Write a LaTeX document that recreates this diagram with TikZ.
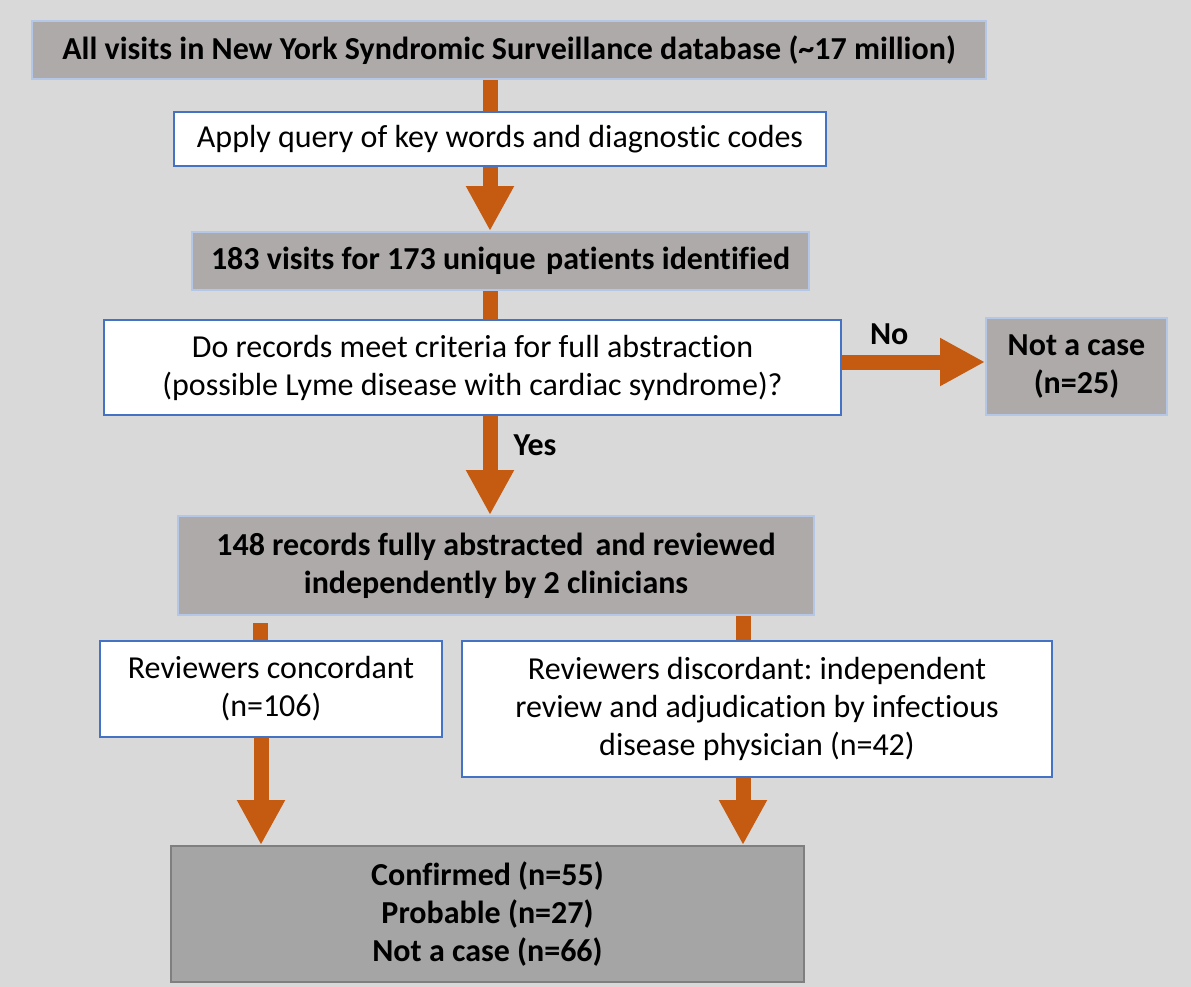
\documentclass[tikz,border=0pt]{standalone}
\usepackage{fontspec}
\setmainfont{Carlito}[RawFeature=-liga]
\usetikzlibrary{arrows.meta}
\frenchspacing
\definecolor{bgc}{HTML}{D9D9D9}
\definecolor{grayfill}{HTML}{AEAAAA}
\definecolor{lightblue}{HTML}{B4C7E7}
\definecolor{boxblue}{HTML}{4472C4}
\definecolor{orangec}{HTML}{C55A11}
\definecolor{darkfill}{HTML}{A5A5A5}
\definecolor{darkline}{HTML}{7F7F7F}
\tikzset{
  txt/.style={font=\fontsize{16}{19}\selectfont, align=center, inner sep=0pt, text=black},
  graybox/.style={txt, font=\fontsize{16}{19}\selectfont\bfseries, fill=grayfill, draw=lightblue, line width=1pt},
  whitebox/.style={txt, fill=white, draw=boxblue, line width=1pt},
  finalbox/.style={txt, font=\fontsize{16}{19}\selectfont\bfseries, fill=darkfill, draw=darkline, line width=1pt},
  stem/.style={draw=orangec, line width=7.5pt},
  arr/.style={stem, -{Triangle[width=22.5pt,length=22.5pt]}, orangec},
  lbl/.style={font=\fontsize{16}{19}\selectfont\bfseries, inner sep=0pt, text=black},
}
\begin{document}
\begin{tikzpicture}[x=0.5pt,y=-0.5pt]
\fill[bgc] (0,0) rectangle (1191,987);
\useasboundingbox (0,0) rectangle (1191,987);

\node[graybox, minimum width=477pt, minimum height=29pt] (b1) at (509,50) {All visits in New York Syndromic Surveillance database (\char`~17 million)};
\node[whitebox, minimum width=326pt, minimum height=27pt] (b2) at (500,139) {Apply query of key words and diagnostic codes};
\node[graybox, minimum width=308.5pt, minimum height=29pt] (b3) at (500.5,261) {183 visits for 173 unique\hspace{0.1em} patients identified};
\node[whitebox, minimum width=368.5pt, minimum height=47.5pt] (b4) at (472.5,367.5) {Do records meet criteria for full abstraction\\(possible Lyme disease with cardiac syndrome)?};
\node[graybox, minimum width=90.5pt, minimum height=48.5pt] (b5) at (1076.5,366.5) {Not a case\\(n=25)};
\node[graybox, minimum width=318pt, minimum height=49.5pt] (b6) at (496,565.5) {148 records fully abstracted\hspace{0.15em} and reviewed\\independently by 2 clinicians};
\node[whitebox, minimum width=171pt, minimum height=48pt] (b7) at (271,689) {Reviewers concordant\\(n=106)};
\node[whitebox, minimum width=295pt, minimum height=68pt] (b8) at (757,709) {Reviewers discordant: independent\\review and adjudication by infectious\\disease physician (n=42)};
\node[finalbox, minimum width=316.5pt, minimum height=68pt] (b9) at (487.5,914) {Confirmed (n=55)\\Probable (n=27)\\Not a case (n=66)};

\coordinate (cx) at (490,0);
\coordinate (lx) at (261,0);
\coordinate (rx) at (743,0);
\coordinate (sx) at (260.5,623);
\coordinate (ny) at (0,362);

% connectors
\draw[stem] (cx |- b1.south) -- (cx |- b2.north);
\draw[arr] (cx |- b2.south) -- (cx |- b3.north);
\draw[stem] (cx |- b3.south) -- (cx |- b4.north);
\draw[arr] (b4.east |- ny) -- node[lbl, above=5pt, pos=0.33] (no) {No} (b5.west |- ny);
\draw[arr] (cx |- b4.south) -- node[lbl, right=8pt, pos=0.3] (yes) {Yes} (cx |- b6.north);
\draw[stem] (sx) -- (sx |- b7.north);
\draw[stem] (rx |- b6.south) -- (rx |- b8.north);
\draw[arr] (lx |- b7.south) -- (lx |- b9.north);
\draw[arr] (rx |- b8.south) -- (rx |- b9.north);
\end{tikzpicture}
\end{document}
